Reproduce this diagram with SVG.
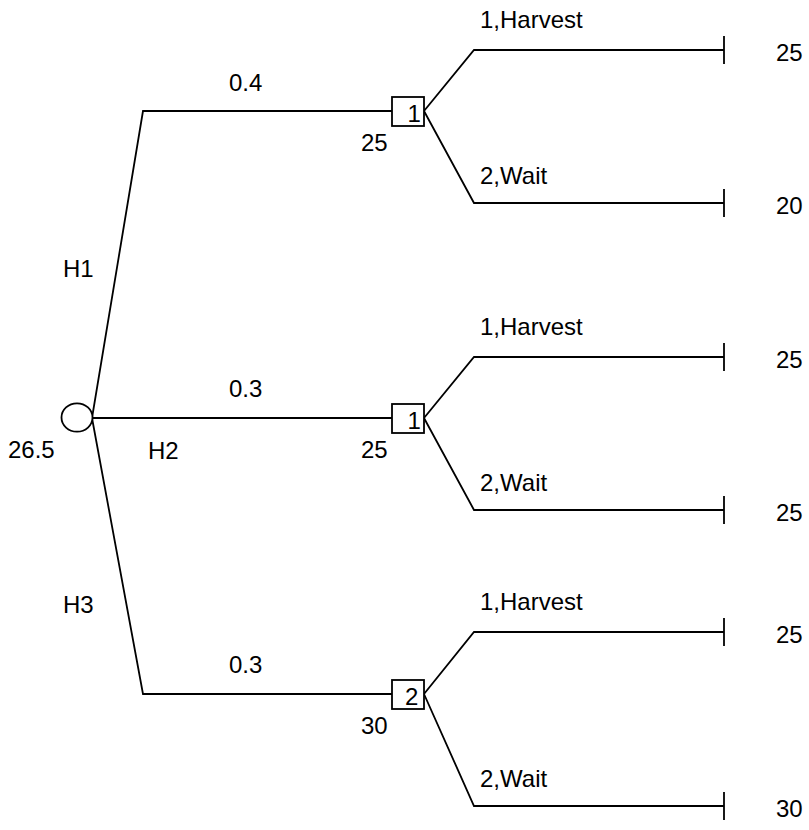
<svg xmlns="http://www.w3.org/2000/svg" width="809" height="830" viewBox="0 0 809 830">
<style>
.ln{fill:none;stroke:#000;stroke-width:1.8}
.nd{fill:#fff;stroke:#000;stroke-width:1.8}
text{font-family:"Liberation Sans",Arial,sans-serif;font-size:24px;fill:#000}
</style>
<rect width="809" height="830" fill="#fff"/>
<g id="connectors">
<polyline class="ln" points="92,418 143,111 392,111"/>
<line class="ln" x1="92" y1="418" x2="392" y2="418"/>
<polyline class="ln" points="92,418 143,694 392,694"/>
<polyline class="ln" points="424,111 474,50 724,50"/>
<polyline class="ln" points="424,111 474,203 724,203"/>
<polyline class="ln" points="424,418 474,357 724,357"/>
<polyline class="ln" points="424,418 474,510 724,510"/>
<polyline class="ln" points="424,694 474,632 724,632"/>
<polyline class="ln" points="424,694 474,806 724,806"/>
<text x="229" y="91">0.4</text>
<text x="229" y="397">0.3</text>
<text x="229" y="673">0.3</text>
<text x="63" y="277">H1</text>
<text x="148" y="459">H2</text>
<text x="63" y="613">H3</text>
<text x="480" y="28">1,Harvest</text>
<text x="480" y="184">2,Wait</text>
<text x="480" y="335">1,Harvest</text>
<text x="480" y="491">2,Wait</text>
<text x="480" y="610">1,Harvest</text>
<text x="480" y="787">2,Wait</text>
</g>
<g id="chance">
<ellipse class="nd" cx="77" cy="417.5" rx="15.5" ry="14.2"/>
<text x="8" y="458">26.5</text>
</g>
<g id="decision1">
<rect class="nd" x="392" y="97" width="32" height="29"/>
<text x="407.5" y="122">1</text>
<text x="361" y="151">25</text>
</g>
<g id="decision2">
<rect class="nd" x="392" y="404" width="32" height="29"/>
<text x="407.5" y="429">1</text>
<text x="361" y="458">25</text>
</g>
<g id="decision3">
<rect class="nd" x="392" y="680" width="32" height="29"/>
<text x="405" y="705">2</text>
<text x="361" y="734">30</text>
</g>
<g id="end1"><line class="ln" x1="724" y1="36" x2="724" y2="64"/><text x="776" y="61">25</text></g>
<g id="end2"><line class="ln" x1="724" y1="189" x2="724" y2="217"/><text x="776" y="214">20</text></g>
<g id="end3"><line class="ln" x1="724" y1="343" x2="724" y2="371"/><text x="776" y="368">25</text></g>
<g id="end4"><line class="ln" x1="724" y1="496" x2="724" y2="524"/><text x="776" y="521">25</text></g>
<g id="end5"><line class="ln" x1="724" y1="618" x2="724" y2="646"/><text x="776" y="643">25</text></g>
<g id="end6"><line class="ln" x1="724" y1="792" x2="724" y2="820"/><text x="776" y="817">30</text></g>
</svg>
